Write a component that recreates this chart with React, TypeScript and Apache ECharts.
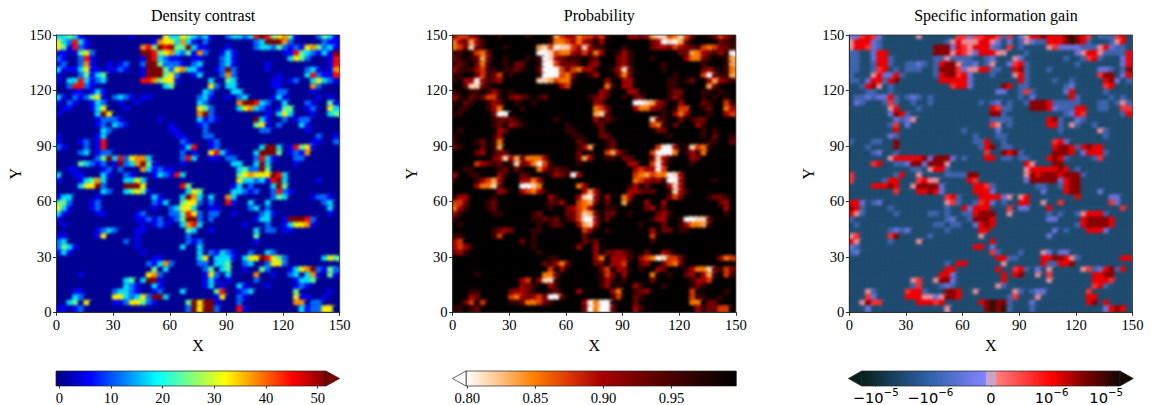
import React, { useEffect, useRef } from "react";
import * as echarts from "echarts";

// Every grid: 50 rows (top row = Y 147-150) x 50 columns (left column = X 0-3); one character = one read colour level.
const densityRows = [
"3343100000 0001000005 3354323100 2332378745 6410002431",
"5327310000 0000000165 5363102000 0000023888 6200000211",
"5417210000 0000067487 8448311000 1000023324 2121564231",
"1101452000 0000088745 6324162001 3100000000 1174321318",
"2100271000 0000018732 1100110002 3100000000 0354200017",
"1200261001 0120028842 2210230002 3100000100 0000000017",
"3111351101 1210018884 2563310012 8200000100 0000231016",
"1000241340 0000018884 5200130002 6200000001 0000372117",
"1033731230 0000077645 5100000300 4300000011 0120035321",
"0027721000 0000000003 4000000520 3300000011 0000062000",
"0001101310 0000000000 0000003200 0330000002 2000010000",
"3102124510 2321011000 0000023100 1023000013 1000001010",
"1021001320 0100100000 0000032000 0068873200 3000210041",
"0110001350 0010000000 0000054200 0035632101 4400120053",
"1000000385 0000000000 0000068200 0000000103 5300010034",
"0000000122 2100000010 0000031210 0000083100 2012200000",
"0000000120 3210000000 1000012000 0000045102 0003100000",
"0000000032 0000000000 1100002000 0000002200 0000100000",
"1000000130 0000000000 0110002200 0000000000 0000002001",
"1000120170 0000000000 0021000120 0000000000 0000011002",
"2100020170 0000000000 0013700120 0000003883 0174510000",
"0000230122 0000000000 0020100573 1000038884 0121600000",
"0000000248 3725663000 0027300110 2200027310 0022000000",
"0000432120 1823684100 0010000000 0330038300 0010000000",
"0011000012 0200063121 1000000000 0034228400 0000000000",
"3001100031 0021000132 1730000000 0045655587 3000000000",
"1000134630 0033530000 0000000000 0053323178 3000001000",
"0000355820 0088850000 0074000000 0130200038 4000000000",
"0000000032 0034541000 0003540000 0332120027 2100000000",
"1330000100 0000000310 0038630300 6300000024 3000012210",
"4420001200 0000000213 0045520200 7100300300 0000000230",
"5310001200 0000000100 2355300110 0000230200 0000000030",
"3100000110 0000120000 2247520220 0100002310 0000000010",
"1000000000 0000112120 1248820200 0000013300 1888720000",
"0100000000 0000010121 0036730000 0001000200 1355610000",
"0000000123 2000110000 0004300100 0000030220 1100000000",
"1100000150 0000100000 0002000000 0000040000 0000000000",
"2300000000 0020100000 0002120000 0000010000 0000000000",
"2431000000 0000100000 0030030000 0000000000 0000000000",
"1310000000 0000010000 0000030213 2100200320 0000000000",
"0000000000 0000000110 0000035033 3103558754 2000000354",
"0000000000 0000002136 2000022033 4002300255 2000000000",
"0000000000 0000000403 0000002403 4001004200 0135682142",
"0000100000 0000005620 0000001520 3000060010 0230361041",
"0000000000 0034038810 0000001310 1000020000 0013340000",
"0000000000 0032100310 0000001301 0031000100 0012100000",
"0001100000 2332100120 0030000047 0012300000 0040000010",
"0003200000 5532352883 0000000015 0021000000 0051100100",
"0034050000 1125542100 0004858810 0020000000 0066022000",
"1101200000 0000000000 0002858820 0071000000 0003122550",
];

const probabilityRows = [
"3443200010 0001000164 3354434100 0332367745 7420012431",
"5326310000 0000000155 4353203000 0000023878 6200000211",
"5427210001 0000067487 7437311000 1000023324 3221454221",
"1101452000 0000088745 5324253001 3100000000 2265321318",
"2101262001 0001018732 1110120002 3100010000 0355210016",
"1210251001 0220018842 2210230002 3100000100 0000100016",
"3111341101 1210028884 2453310013 7200000100 0000231015",
"1100241240 1000018884 5200130002 5200000001 0000482116",
"1033831230 0000077645 5100000300 3300000011 0120036321",
"0027721000 0000000003 4000000510 3300000011 0000062000",
"1001101310 1000000000 0000003200 0330000012 2000110100",
"3102124410 2321012000 0000123100 1022000013 1000101010",
"1021001320 0100100000 0000032000 0088763200 3000210041",
"0110001350 0010000000 0000054200 0035532101 4400120053",
"1100000288 0000000000 0000067200 0000000103 5300010034",
"0000000122 2100000010 0000031210 0000072100 2012200000",
"0000000120 3210000000 1000012000 0000045102 0003100000",
"0100000032 0000000000 1100002000 0000002200 0000101000",
"1000000130 0000000000 0110002200 0000000010 0000102001",
"1000120150 0000000000 0021000120 0000000000 0000011002",
"2100020160 0000000000 0013600120 0000004883 0174510000",
"0000230122 0000000000 0020100463 1000048885 0131500000",
"0000000237 3625553000 0026300110 2200027310 0032000000",
"0000432120 1723584100 0010000000 0330048300 0010000000",
"0011000012 0200053121 1000000000 0034338400 0000000000",
"3001100031 0021000132 1830000000 0045645587 3000000000",
"1000134630 0033530000 0000000000 0054323188 3000001000",
"0000355720 0088750000 0053000000 0130200037 3000000000",
"0000000032 0034531000 0003630000 0332120017 3100000000",
"1330000100 0000000310 0037830300 5300000024 2000012210",
"4420001200 0000000213 0045620200 6100300300 0000000230",
"5310001200 0000000100 2345300110 0000230200 0000000030",
"3100000110 0000120000 2247620220 0100002310 0000000010",
"1000000000 0000112120 1248830200 0000013300 1887720000",
"0100000000 0000010121 0036730000 0001000200 1355610000",
"0000000123 2000110000 0004300100 0000030220 1100000000",
"1100000140 0000100000 0002000000 0000040000 0000000000",
"3400000000 0020100000 0002120000 0000010000 0000000000",
"3431000000 0000100000 0030030000 0000000000 0000000000",
"2310000000 0000010000 0000030223 2100200320 0000000000",
"0000000000 0000000110 0000035033 3103458744 2000000354",
"0000000000 0000002135 2000022033 4002300245 2000000000",
"0000000000 0000000403 0000002403 3001003200 0135572142",
"0000100000 0000005520 0000001420 3000050010 0230361041",
"0000000000 0034037710 0000001310 1000020000 0013340000",
"0000000000 0032100310 0000001301 0031000100 0012100000",
"0001100000 2332100120 0030000035 0012300000 0040000010",
"0003200000 4532342882 0000000014 0021000000 0041100100",
"0024040000 1125542100 0003858810 0020000000 0055022000",
"1101200000 0000000000 0002858820 0031000000 0003122440",
];

const gainRows = [
"2245420000 0030000004 4244554140 2355655567 6540111450",
"3555210000 0000000135 3335532020 1321155567 6510001350",
"3554210000 0000066625 4355521040 1000034222 2111352110",
"1100255000 0000066635 4325553300 0100000000 2355311115",
"1100255100 0000011311 1100120003 2000000010 0145100025",
"1100155100 1121015663 1120130024 5100000000 1000000025",
"1100145010 1110016664 2335511005 6100010000 0000221016",
"1000352251 0000015664 5200010003 5100000000 0000466025",
"1102551560 0000005555 5200000000 5100001001 0000056201",
"0015630100 0000000045 5200000650 1100000012 0000045000",
"0001100100 0000000000 0000002200 1410000025 0000010000",
"0112122510 1210100000 0000000000 1020000005 1000001010",
"0210001410 0100100000 0001012010 0166651111 1000110131",
"0000000350 0010000000 0000054110 0066652111 5500110044",
"0000000265 1000000000 0000066100 0000000012 5400000015",
"0000000021 2300000000 0000011110 0000056100 2100000000",
"0000000140 2000000000 0000043010 0000055103 1001000000",
"0000000050 0000000000 1000002000 0000000100 0000310000",
"0000000210 0000000000 0010001100 0000000000 0000010000",
"1000110060 0000000000 0011500100 0000004520 0000000000",
"0001000060 0000000000 0001560110 0000005665 1565500000",
"0000120010 0000000000 0000400656 1000006665 0255510000",
"0000000355 5556266620 1000550110 1100056510 0001400000",
"0000450011 2662666300 0000000000 0530006600 0000000000",
"0000000000 0110355100 0000000000 0355555650 1000000000",
"4000000015 0030000111 1660000000 0365666566 6100000000",
"4000001550 0045330000 0540000000 0266666256 6000000000",
"0000555650 0366662000 0055410000 0001100156 6000000000",
"0000000040 0055652000 0055520000 0000200056 6000200000",
"0000000000 0000000451 0005555230 3500000000 5000002200",
"5520120000 0000000341 0014520100 5500300400 0000004200",
"6510000100 0000000100 5255500040 2200050000 0000000040",
"5310000010 0000110100 1156660030 0000010100 1355510000",
"1000000000 0000000120 0166650000 0000022000 0566665000",
"0100000000 0000011011 0025650000 0000000000 1566665000",
"0000000121 2000000100 0005500000 0000002010 0055520000",
"3400000460 0000100000 0003000000 0000020000 0000000000",
"5300000100 0030000000 0000050000 0000000000 0000000000",
"2100000000 0000000000 0055020000 0000000000 0000000000",
"1200000000 0000000000 0000041000 1000320220 0000000000",
"0000000000 0000000000 0000005511 0000556653 1000000055",
"0000000000 0000000105 5000000300 0000511556 0000000000",
"0000000000 0000000550 0000005004 5102030000 0341256150",
"0000000000 0000005520 0000000505 6003040000 0005566000",
"0000000000 0340036620 0000000500 0000030000 0005554000",
"0000000000 0140001210 0000003100 0000000000 0004510000",
"0003100000 4551000665 0030000003 1012200000 0040000000",
"0004200000 5553323665 0000000014 0003000000 0055000000",
"0036440000 0055545000 0005676610 0020000000 0056050000",
"0002000000 0000000300 0000676710 0010000000 0000025650",
];

// Value for each level used in the grids above.
const densityLevels = [1, 6, 12, 18, 25, 33, 38, 45, 53];
const probabilityLevels = [0.995, 0.962, 0.93, 0.9, 0.875, 0.852, 0.835, 0.815, 0.8];
// Specific information gain, in position along the symlog colour bar (one decade = 1).
const gainLevels = [-1.5, -1.0, -0.45, 0.2, 0.8, 1.2, 1.6, 2.1];

const cellCenters = ["1.5","4.5","7.5","10.5","13.5","16.5","19.5","22.5","25.5","28.5","31.5","34.5","37.5","40.5","43.5","46.5","49.5","52.5","55.5","58.5","61.5","64.5","67.5","70.5","73.5","76.5","79.5","82.5","85.5","88.5","91.5","94.5","97.5","100.5","103.5","106.5","109.5","112.5","115.5","118.5","121.5","124.5","127.5","130.5","133.5","136.5","139.5","142.5","145.5","148.5"];

const titles = ["Density contrast", "Probability", "Specific information gain"];

const jetColors = ["#00007f","#0000ff","#007fff","#00ffff","#7fff7f","#ffff00","#ff7f00","#ff0000","#7f0000"];
const probColors = ["#ffffff","#ffc285","#ff8000","#e03a00","#a80000","#7a0000","#4d0000","#240000","#000000"];
const gainColors = ["#04160f","#0e2c30","#16384f","#1f4c70","#2b5ea0","#4a68b8","#6070d0","#7478e8","#c8a0c8","#ff8888","#ff5050","#ff2020","#f00000","#a00000","#600000","#301000","#100800"];
const panelBase = ["#00007f", "#000000", "#1f4c70"];

const densityTicks = [0, 10, 20, 30, 40, 50];
const probabilityTicks = [0.8, 0.85, 0.9, 0.95];
const gainTicks = [-2.111, -1.111, 0, 1.111, 2.111];
const gainTickLabels = ["{b|\u221210}{s|\u22125}", "{b|\u221210}{s|\u22126}", "{b|0}", "{b|10}{s|\u22126}", "{b|10}{s|\u22125}"];

const SERIF = "'Liberation Serif', 'Times New Roman', serif";
const PANEL_LEFT = [56.5, 452.7, 849.3];
const PANEL_W = 283.2;
const PANEL_TOP = 35;
const PANEL_H = 277.3;
const BAR_TOP = 371;
const BAR_H = 15;
const SMOOTH_PX = 1.6;

function cells(rows: string[], levels: number[]) {
  const out: number[][] = [];
  rows.forEach((row, r) => {
    const clean = row.replace(/ /g, "").padEnd(50, "0");
    for (let c = 0; c < 50; c++) out.push([c, 49 - r, levels[Number(clean[c])]]);
  });
  return out;
}

function gradient(stops: [number, string][]) {
  return new echarts.graphic.LinearGradient(0, 0, 1, 0, stops.map(([offset, color]) => ({ offset, color })));
}
function even(colors: string[]): [number, string][] {
  return colors.map((c, i) => [i / (colors.length - 1), c]);
}

// The reference image is drawn with image interpolation: soften the edge of each heatmap cell.
function smoothPanels(root: HTMLElement) {
  const svg = root.querySelector("svg");
  if (!svg || svg.querySelector("#cell-smooth")) return;
  const NS = "http://www.w3.org/2000/svg";
  let defs = svg.querySelector("defs");
  if (!defs) { defs = document.createElementNS(NS, "defs"); svg.insertBefore(defs, svg.firstChild); }
  const filter = document.createElementNS(NS, "filter");
  filter.setAttribute("id", "cell-smooth");
  filter.setAttribute("x", "-100%");
  filter.setAttribute("y", "-100%");
  filter.setAttribute("width", "300%");
  filter.setAttribute("height", "300%");
  filter.setAttribute("color-interpolation-filters", "sRGB");
  const grow = document.createElementNS(NS, "feMorphology");
  grow.setAttribute("operator", "dilate");
  grow.setAttribute("radius", "1");
  const blur = document.createElementNS(NS, "feGaussianBlur");
  blur.setAttribute("stdDeviation", String(SMOOTH_PX));
  filter.appendChild(grow);
  filter.appendChild(blur);
  defs.appendChild(filter);
  (Array.from(svg.querySelectorAll("path")) as SVGPathElement[]).forEach((p) => {
    const fill = p.getAttribute("fill");
    if (!fill || fill === "none") return;
    const b = p.getBBox();
    if (b.width > 9 || b.height > 9) return;
    const inside = PANEL_LEFT.some((left) => b.x >= left - 2 && b.x <= left + PANEL_W + 2) && b.y >= PANEL_TOP - 2 && b.y <= PANEL_TOP + PANEL_H + 2;
    if (inside) p.setAttribute("filter", "url(#cell-smooth)");
  });
}

export default function App() {
  const ref = useRef<HTMLDivElement>(null);
  useEffect(() => {
    document.body.style.margin = "0";
    const chart = echarts.init(ref.current!, undefined, { renderer: "svg" });
    const grids: any[] = [], xAxes: any[] = [], yAxes: any[] = [], series: any[] = [], graphics: any[] = [];
    const datasets = [cells(densityRows, densityLevels), cells(probabilityRows, probabilityLevels), cells(gainRows, gainLevels)];
    const maps = [
      { min: 0, max: 52, color: jetColors },
      { min: 0.8, max: 0.998, color: probColors },
      { min: -2.4, max: 2.4, color: gainColors },
    ];
    const label = { color: "#000", fontFamily: SERIF, fontSize: 14.67, hideOverlap: false };
    const line = { show: true, onZero: false, lineStyle: { color: "#000", width: 0.8 } };
    const tick = { show: true, length: 3.5, lineStyle: { color: "#000", width: 0.8 } };
    datasets.forEach((data, i) => {
      grids.push({ show: true, left: PANEL_LEFT[i], top: PANEL_TOP, width: PANEL_W, height: PANEL_H, backgroundColor: panelBase[i], borderWidth: 0 });
      xAxes.push({ type: "category", gridIndex: i, data: cellCenters, show: false });
      yAxes.push({ type: "category", gridIndex: i, data: cellCenters, show: false });
      xAxes.push({
        type: "value", gridIndex: i, z: 8, min: 0, max: 150, interval: 30, position: "bottom",
        name: "X", nameLocation: "middle", nameGap: 23, nameTextStyle: { color: "#000", fontFamily: SERIF, fontSize: 16 },
        axisLine: line, axisTick: tick, axisLabel: { ...label, margin: 5 }, splitLine: { show: false },
      });
      yAxes.push({
        type: "value", gridIndex: i, z: 8, min: 0, max: 150, interval: 30, position: "left",
        name: "Y", nameLocation: "middle", nameGap: 33, nameTextStyle: { color: "#000", fontFamily: SERIF, fontSize: 16 },
        axisLine: line, axisTick: tick, axisLabel: { ...label, margin: 5 }, splitLine: { show: false },
      });
      series.push({
        type: "heatmap", data, xAxisIndex: i * 2, yAxisIndex: i * 2, z: 2, silent: true, progressive: 0,
        emphasis: { disabled: true },
      });
      graphics.push({
        type: "rect", z: 100, silent: true,
        shape: { x: PANEL_LEFT[i], y: PANEL_TOP, width: PANEL_W, height: PANEL_H },
        style: { fill: "transparent", stroke: "#333", lineWidth: 0.8 },
      });
      // White margins around the panel, so that softened cell edges stop at the frame.
      const L = PANEL_LEFT[i], R = L + PANEL_W, T = PANEL_TOP, B = T + PANEL_H, M = 8;
      [[L - M, T - M, PANEL_W + 2 * M, M], [L - M, B, PANEL_W + 2 * M, M], [L - M, T, M, PANEL_H], [R, T, M, PANEL_H]].forEach(([x, y, width, height]) => {
        graphics.push({ type: "rect", z: 5, silent: true, shape: { x, y, width, height }, style: { fill: "#fff" } });
      });
    });

    const bars = [
      { left: 56, width: 270, min: -0.64, max: 51.6, ticks: densityTicks, fmt: (v: number) => String(v), font: SERIF, size: 14.67 },
      { left: 466, width: 270.3, min: 0.799, max: 0.9976, ticks: probabilityTicks, fmt: (v: number) => v.toFixed(2), font: SERIF, size: 14.67 },
      { left: 861.7, width: 258.3, min: -2.368, max: 2.363, ticks: gainTicks, fmt: (v: number) => gainTickLabels[gainTicks.indexOf(v)], font: "'DejaVu Sans'", size: 14.67 },
    ];
    bars.forEach((b, k) => {
      const gi = 3 + k;
      grids.push({ left: b.left, top: BAR_TOP, width: b.width, height: BAR_H });
      xAxes.push({
        type: "value", gridIndex: gi, min: b.min, max: b.max, position: "bottom",
        axisLine: { show: false },
        axisTick: { ...tick, customValues: b.ticks },
        axisLabel: {
          color: "#000", fontFamily: b.font, fontSize: b.size, margin: k === 2 ? 4 : 5, hideOverlap: false,
          customValues: b.ticks, formatter: b.fmt,
          rich: {
            b: { fontFamily: b.font, fontSize: 14.67, color: "#000", lineHeight: 18, verticalAlign: "bottom" },
            s: { fontFamily: b.font, fontSize: 10.3, color: "#000", lineHeight: 18, verticalAlign: "top" },
          },
        },
        splitLine: { show: false },
      });
      yAxes.push({ type: "value", gridIndex: gi, min: 0, max: 1, show: false });
    });

    const outline = { stroke: "#222", lineWidth: 0.7 };
    const rect = (x: number, w: number, fill: any) => ({
      type: "rect", z: 50, silent: true, shape: { x, y: BAR_TOP, width: w, height: BAR_H }, style: { fill, ...outline },
    });
    const tri = (base: number, tip: number, fill: string) => ({
      type: "polygon", z: 50, silent: true,
      shape: { points: [[base, BAR_TOP], [tip, BAR_TOP + BAR_H / 2], [base, BAR_TOP + BAR_H]] },
      style: { fill, ...outline },
    });
    const gp = (t: number) => (t + 2.368) / 4.731;
    graphics.push(
      rect(56, 270, gradient(even(jetColors))),
      tri(326, 339.6, "#7f0000"),
      rect(466, 270.3, gradient(even(probColors))),
      tri(466, 452.5, "#ffffff"),
      rect(861.7, 258.3, gradient([
        [0, "#06201a"], [gp(-2.111), "#0f2f38"], [gp(-1.111), "#2f63ab"], [gp(-0.09), "#8484ff"],
        [gp(-0.089), "#c8a4cc"], [gp(0.089), "#c8a4cc"], [gp(0.09), "#ff8080"], [gp(1.111), "#ff0000"], [gp(1.7), "#800000"], [1, "#120800"],
      ])),
      tri(861.7, 848.4, "#06201a"),
      tri(1120, 1133.3, "#120800"),
    );

    chart.on("finished", () => smoothPanels(ref.current!));
    chart.setOption({
      animation: false,
      backgroundColor: "#fff",
      title: titles.map((text, i) => ({
        text, left: PANEL_LEFT[i] + PANEL_W / 2, top: 2, textAlign: "center", z: 20,
        textStyle: { color: "#000", fontFamily: SERIF, fontSize: 16, fontWeight: "normal" },
      })),
      grid: grids, xAxis: xAxes, yAxis: yAxes, series,
      visualMap: maps.map((m, i) => ({
        show: false, type: "continuous", seriesIndex: i, dimension: 2, min: m.min, max: m.max, inRange: { color: m.color },
      })),
      graphic: { elements: graphics },
    });
    return () => chart.dispose();
  }, []);
  return <div ref={ref} style={{ position: "absolute", left: 0, top: 0, width: 1151, height: 405 }} />;
}
